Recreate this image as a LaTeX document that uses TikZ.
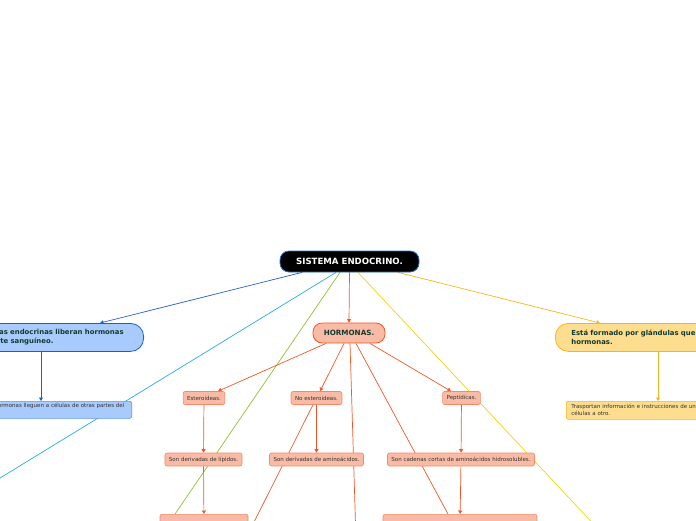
\documentclass[tikz,border=0pt]{standalone}
\usepackage{fontspec}
\setmainfont{DejaVu Sans}
\usetikzlibrary{arrows.meta,calc,positioning,backgrounds}
\definecolor{rootblue}{RGB}{40,110,190}
\definecolor{blueln}{RGB}{30,95,205}
\definecolor{bluefill}{RGB}{168,202,252}
\definecolor{blueedge}{RGB}{95,150,235}
\definecolor{cyanln}{RGB}{40,170,228}
\definecolor{greenln}{RGB}{140,195,50}
\definecolor{yellowln}{RGB}{242,212,10}
\definecolor{goldln}{RGB}{248,180,30}
\definecolor{goldfill}{RGB}{253,221,142}
\definecolor{orangeln}{RGB}{240,88,40}
\definecolor{salmon}{RGB}{249,187,165}
\definecolor{salmonedge}{RGB}{246,135,105}
\definecolor{darktxt}{RGB}{18,58,48}

\begin{document}
\begin{tikzpicture}[x=1pt,y=-1pt,
  rootbox/.style={draw=rootblue,line width=0.8pt,fill=black,rounded corners=9pt,text=white,
    font=\bfseries\fontsize{8.6}{10}\selectfont,minimum width=139pt,minimum height=21pt,inner sep=0pt},
  bigbox/.style={rounded corners=13pt,line width=0.8pt,font=\bfseries\fontsize{6.9}{9}\selectfont,
    text=darktxt,align=left,minimum height=28pt,inner xsep=12pt,inner ysep=0pt},
  hormbox/.style={draw=orangeln,fill=salmon,line width=0.8pt,rounded corners=9pt,
    font=\bfseries\fontsize{7.2}{8}\selectfont,text=darktxt,minimum width=72pt,minimum height=20pt,inner sep=0pt},
  smallbox/.style={rounded corners=2pt,line width=0.6pt,font=\fontsize{5.5}{7}\selectfont,
    text=black!80,inner xsep=4pt,inner ysep=0pt,minimum height=13pt},
  salmonbox/.style={smallbox,fill=salmon,draw=salmonedge},
  link/.style={line width=0.7pt},
  arr/.style={-{Triangle[length=3.5pt,width=4pt]}}]
  \useasboundingbox (0,0) rectangle (696,520);
  \clip (0,0) rectangle (696,520);

  % main node
  \node[rootbox] (root) at (349.5,261.5) {SISTEMA ENDOCRINO.};

  % left branch
  \node[bigbox,fill=bluefill,draw=blueln,anchor=north east,text width=177pt] (glandulas) at (144,323)
    {Las glándulas endocrinas liberan hormonas\\en el torrente sanguíneo.};
  \node[smallbox,fill=bluefill,draw=blueedge,anchor=north east,align=left,text width=179pt,
    minimum height=17pt,inner xsep=3pt] (llegan) at (132,401)
    {Permite que las hormonas lleguen a células de otras partes del\\cuerpo.};

  % right branch
  \node[bigbox,fill=goldfill,draw=goldln,anchor=north west,text width=220pt,inner xsep=16pt] (formado) at (555,323)
    {Está formado por glándulas que producen\\hormonas.};
  \node[smallbox,fill=goldfill,draw=goldln,anchor=north west,align=left,text width=200pt,
    minimum height=18pt,inner xsep=5pt] (trasportan) at (566,401)
    {Trasportan información e instrucciones de un conjunto de\\células a otro.};

  % hormonas
  \node[hormbox] (hormonas) at (349,333) {HORMONAS.};
  \node[salmonbox] (est) at (204,398) {Esteroideas.};
  \node[salmonbox] (noest) at (316.5,398) {No esteroideas.};
  \node[salmonbox] (pep) at (461.5,398) {Peptídicas.};
  \node[salmonbox] (lip) at (203.5,459.5) {Son derivadas de lípidos.};
  \node[salmonbox] (amino) at (316.5,459.5) {Son derivadas de aminoácidos.};
  \node[salmonbox] (cad) at (461,459.5) {Son cadenas cortas de aminoácidos hidrosolubles.};
  \node[salmonbox,anchor=north,minimum width=88pt,minimum height=20pt] (botl) at (204,514) {};
  \node[salmonbox,anchor=north,minimum width=154pt,minimum height=20pt] (botr) at (460,514) {};

  % free ends below the frame
  \coordinate (cyanend) at (-80,527);
  \coordinate (yelend) at (600,531);
  \coordinate (hormend) at (356,540);
  \coordinate (noestend) at (245,540);

  \begin{scope}[on background layer]
    \clip (0,0) rectangle (696,520);
    \draw[link,arr,blueln] ([xshift=-47.5pt]root.south) -- ([xshift=-44pt]glandulas.north east);
    \draw[link,cyanln] ([xshift=-13.5pt]root.south) -- (cyanend);
    \draw[link,greenln] ([xshift=-9.5pt]root.south) -- ([xshift=-29pt]botl.north);
    \draw[link,arr,orangeln] (root.south) -- (hormonas.north);
    \draw[link,yellowln] ([xshift=8.5pt]root.south) -- (yelend);
    \draw[link,arr,goldln] ([xshift=48.5pt]root.south) -- ([xshift=45pt]formado.north west);
    \draw[link,arr,blueln] ([xshift=-103pt]glandulas.south east) -- ([xshift=-91pt]llegan.north east);
    \draw[link,arr,goldln] ([xshift=103pt]formado.south west) -- ([xshift=92pt]trasportan.north west);

    \draw[link,arr,orangeln] ([xshift=-23pt]hormonas.south) -- ([xshift=14pt]est.north);
    \draw[link,arr,orangeln] ([xshift=-5pt]hormonas.south) -- ([xshift=3.5pt]noest.north);
    \draw[link,arr,orangeln] ([xshift=21pt]hormonas.south) -- ([xshift=-10.5pt]pep.north);
    \draw[link,orangeln] ([xshift=1pt]hormonas.south) -- (hormend);
    \draw[link,orangeln] ([xshift=7pt]hormonas.south) -- ([xshift=-12pt]botr.north);
    \draw[link,orangeln] ([xshift=-3.5pt]noest.south) -- (noestend);

    \draw[link,arr,orangeln] (est) -- (lip);
    \draw[link,arr,orangeln] (lip) -- (botl);
    \draw[link,arr,orangeln] (noest) -- (amino);
    \draw[link,arr,orangeln] (pep) -- (cad);
    \draw[link,arr,orangeln] (cad) -- (botr);
  \end{scope}
\end{tikzpicture}
\end{document}
